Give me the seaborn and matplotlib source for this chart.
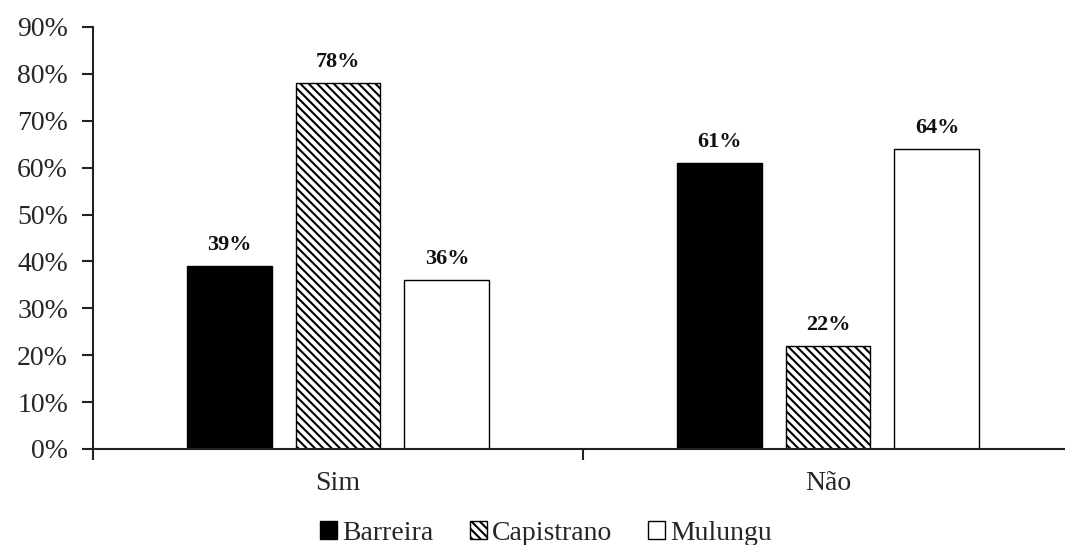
import matplotlib
matplotlib.use("Agg")
import matplotlib.pyplot as plt
import seaborn as sns
import pandas as pd
from matplotlib.patches import Patch

categorias = ["Sim", "Não"]
municipios = ["Barreira", "Capistrano", "Mulungu"]
barreira = [39, 61]
capistrano = [78, 22]
mulungu = [36, 64]

valores = {"Barreira": barreira, "Capistrano": capistrano, "Mulungu": mulungu}
rows = []
for m in municipios:
    for c, v in zip(categorias, valores[m]):
        rows.append({"categoria": c, "municipio": m, "valor": v})
df = pd.DataFrame(rows)

sns.set_theme(style="white")
plt.rcParams["font.family"] = ["Liberation Serif", "DejaVu Serif"]
plt.rcParams["hatch.linewidth"] = 1.5

fig = plt.figure(figsize=(10.65, 5.45), dpi=100)
ax = fig.add_axes([93 / 1065, 1 - 449 / 545, (1073 - 93) / 1065, (449 - 27) / 545])

palette = {"Barreira": "black", "Capistrano": "white", "Mulungu": "white"}
sns.barplot(data=df, x="categoria", y="valor", hue="municipio", order=categorias,
            hue_order=municipios, palette=palette, width=0.667, gap=0.22,
            edgecolor="black", linewidth=1.0, legend=False, ax=ax)

hatches = {"Barreira": "", "Capistrano": "\\\\\\\\", "Mulungu": ""}
for cont, m in zip(ax.containers, municipios):
    for bar in cont:
        bar.set_hatch(hatches[m])
        bar.set_edgecolor("black")
    ax.bar_label(cont, labels=[f"{v:.0f}%" for v in cont.datavalues],
                 padding=8, fontsize=16, fontweight="bold", color="#111111")

ax.set_ylim(0, 90)
ax.set_xlim(-0.5, 1.5)
ax.set_yticks(range(0, 91, 10))
ax.set_yticklabels([f"{t}%" for t in range(0, 91, 10)], fontsize=20)
ax.set_xticks([-0.5, 0.5, 1.5])
ax.set_xticklabels([])
ax.set_xticks([0, 1], minor=True)
ax.set_xticklabels(categorias, minor=True, fontsize=20)
ax.tick_params(axis="x", which="minor", length=0, pad=16)
ax.tick_params(axis="both", which="major", direction="out", length=8, width=1.5,
               color="#222222", bottom=True, left=True)
ax.tick_params(axis="y", which="major", pad=10)
ax.set_xlabel("")
ax.set_ylabel("")
for s in ["top", "right"]:
    ax.spines[s].set_visible(False)
for s in ["left", "bottom"]:
    ax.spines[s].set_color("#222222")
    ax.spines[s].set_linewidth(1.5)

handles = [Patch(facecolor="black", edgecolor="black"),
           Patch(facecolor="white", edgecolor="black", hatch="\\\\\\\\"),
           Patch(facecolor="white", edgecolor="black")]
fig.legend(handles, municipios, loc="lower center", bbox_to_anchor=(0.513, -0.047),
           ncol=3, frameon=False, fontsize=20, handlelength=0.6, handleheight=0.6,
           handletextpad=0.2, columnspacing=1.3)

fig.savefig("out.png", dpi=100)
